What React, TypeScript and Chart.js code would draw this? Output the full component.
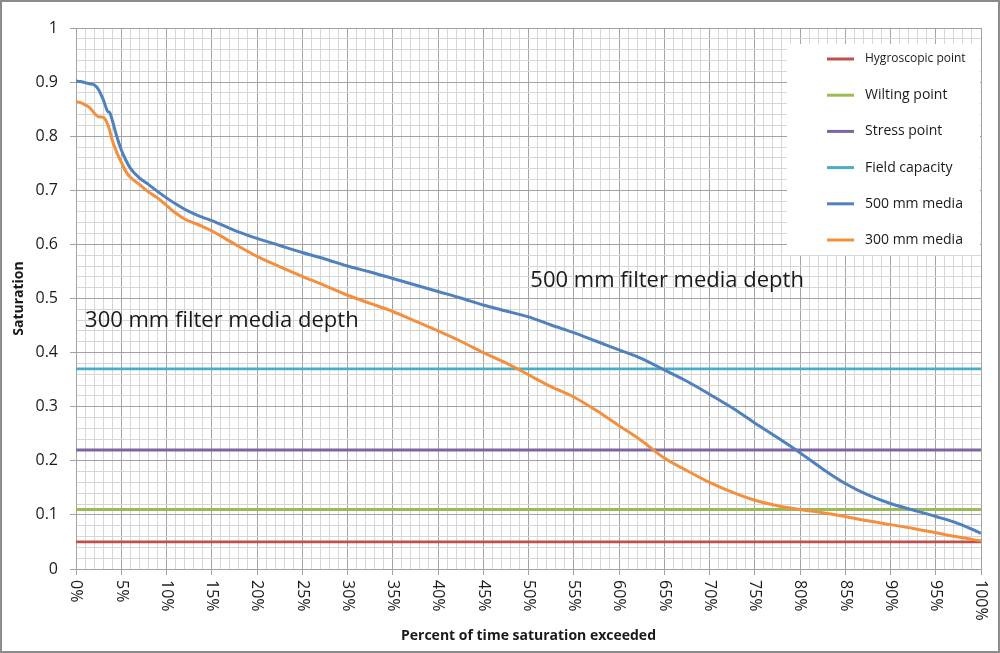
import React, { useEffect, useRef } from 'react';
import { Chart, registerables } from 'chart.js';

Chart.register(...registerables);

// ---------------- data ----------------
const PERCENT = [
  0, 0.5, 1, 1.5, 2, 2.5, 3, 3.5, 3.75, 4, 4.5, 5, 5.5, 6, 7, 8, 9, 10, 11, 12, 13, 14, 15,
  17.5, 20, 22.5, 25, 27.5, 30, 32.5, 35, 37.5, 40, 42.5, 45, 47.5, 50, 52.5, 55, 57.5, 60,
  62.5, 65, 67.5, 70, 72.5, 75, 77.5, 80, 82.5, 85, 87.5, 90, 92.5, 95, 97.5, 100,
];

const MEDIA_500 = [
  0.902, 0.901, 0.899, 0.897, 0.895, 0.886, 0.868, 0.846, 0.843, 0.83, 0.8, 0.775, 0.756, 0.741,
  0.723, 0.711, 0.698, 0.686, 0.675, 0.665, 0.657, 0.65, 0.644, 0.626, 0.611, 0.598, 0.585,
  0.573, 0.56, 0.549, 0.537, 0.525, 0.513, 0.501, 0.488, 0.477, 0.466, 0.451, 0.437, 0.421,
  0.405, 0.389, 0.368, 0.347, 0.323, 0.298, 0.27, 0.243, 0.215, 0.185, 0.158, 0.137, 0.121,
  0.109, 0.097, 0.084, 0.066,
];

const MEDIA_300 = [
  0.864, 0.862, 0.858, 0.853, 0.843, 0.836, 0.835, 0.822, 0.809, 0.793, 0.77, 0.752, 0.735,
  0.724, 0.711, 0.697, 0.686, 0.672, 0.658, 0.647, 0.64, 0.633, 0.625, 0.601, 0.578, 0.559,
  0.541, 0.524, 0.506, 0.491, 0.476, 0.458, 0.44, 0.421, 0.4, 0.381, 0.359, 0.337, 0.318,
  0.293, 0.265, 0.237, 0.205, 0.182, 0.16, 0.142, 0.127, 0.117, 0.11, 0.104, 0.097, 0.089,
  0.082, 0.075, 0.067, 0.059, 0.052,
];

const THRESHOLD_NAMES = ['Hygroscopic point', 'Wilting point', 'Stress point', 'Field capacity'];
const THRESHOLD_VALUES = [0.05, 0.11, 0.22, 0.37];
const CURVE_NAMES = ['500 mm media', '300 mm media'];

const X_TICK_VALUES = [0, 5, 10, 15, 20, 25, 30, 35, 40, 45, 50, 55, 60, 65, 70, 75, 80, 85, 90, 95, 100];
const ANNOTATION_TEXTS = ['500 mm filter media depth', '300 mm filter media depth'];
const ANNOTATION_ANCHORS = [
  { x: 50.2, y: 0.521 },
  { x: 1.0, y: 0.447 },
];

const X_TITLE = 'Percent of time saturation exceeded';
const Y_TITLE = 'Saturation';

// ---------------- styles ----------------
const FONT = '"Open Sans", "Noto Sans", sans-serif';
const THRESHOLD_COLORS = ['#c0504d', '#9bbb59', '#8064a2', '#4bacc6'];
const CURVE_COLORS = ['#4f81bd', '#f2903f'];
const MAJOR_GRID = '#a3a3a3';
const MINOR_GRID = '#d6d6d6';
const TEXT_COLOR = '#1a1a1a';
const LEGEND_FONT_SIZES = [12, 14, 14, 14, 14, 14];

const isMultiple = (v: number, step: number) => Math.abs(v / step - Math.round(v / step)) < 1e-6;

const bgPlugin = {
  id: 'bg',
  beforeDraw(chart: any) {
    const { ctx, width, height } = chart;
    ctx.save();
    ctx.fillStyle = '#ffffff';
    ctx.fillRect(0, 0, width, height);
    ctx.restore();
  },
};

const legendPlugin = {
  id: 'boxLegend',
  beforeDatasetsDraw(chart: any) {
    const { ctx, chartArea } = chart;
    const L = chartArea.right - 194;
    const T = chartArea.top + 16;
    const W = 193;
    const H = 211;
    ctx.save();
    ctx.fillStyle = '#ffffff';
    ctx.fillRect(L, T, W, H);
    chart.data.datasets.forEach((ds: any, i: number) => {
      const y = T + 15 + i * 36.2;
      ctx.beginPath();
      ctx.strokeStyle = ds.borderColor;
      ctx.lineWidth = 3;
      ctx.moveTo(L + 40, y);
      ctx.lineTo(L + 67, y);
      ctx.stroke();
      ctx.fillStyle = TEXT_COLOR;
      ctx.font = `${LEGEND_FONT_SIZES[i]}px ${FONT}`;
      ctx.textBaseline = 'middle';
      ctx.textAlign = 'left';
      ctx.fillText(ds.label, L + 78, y);
    });
    ctx.restore();
  },
};

const overlayPlugin = {
  id: 'overlay',
  afterDraw(chart: any) {
    const { ctx, scales, width, height } = chart;
    const xs = scales.x;
    const ys = scales.y;
    ctx.save();
    // rotated x tick labels (reading top to bottom)
    ctx.fillStyle = TEXT_COLOR;
    ctx.font = `16px ${FONT}`;
    ctx.textAlign = 'left';
    ctx.textBaseline = 'middle';
    X_TICK_VALUES.forEach((v) => {
      const px = xs.getPixelForValue(v);
      ctx.save();
      ctx.translate(px, ys.bottom + 11);
      ctx.rotate(Math.PI / 2);
      ctx.fillText(`${v}%`, 0, 0);
      ctx.restore();
    });
    // annotations
    ctx.font = `22px ${FONT}`;
    ctx.textBaseline = 'alphabetic';
    ANNOTATION_TEXTS.forEach((t, i) => {
      const a = ANNOTATION_ANCHORS[i];
      ctx.fillText(t, xs.getPixelForValue(a.x), ys.getPixelForValue(a.y));
    });
    // outer frame
    ctx.strokeStyle = '#8c8c8c';
    ctx.lineWidth = 2;
    ctx.strokeRect(1, 1, width - 2, height - 2);
    ctx.restore();
  },
};

export default function App() {
  const ref = useRef<HTMLCanvasElement | null>(null);

  useEffect(() => {
    document.body.style.margin = '0';
    const canvas = ref.current;
    if (!canvas) return;

    const thresholdSets = THRESHOLD_NAMES.map((name, i) => ({
      label: name,
      data: [
        { x: 0, y: THRESHOLD_VALUES[i] },
        { x: 100, y: THRESHOLD_VALUES[i] },
      ],
      borderColor: THRESHOLD_COLORS[i],
      backgroundColor: THRESHOLD_COLORS[i],
      borderWidth: 2.8,
      pointRadius: 0,
      order: 10 - i,
    }));
    const curveSets = [MEDIA_500, MEDIA_300].map((vals, i) => ({
      label: CURVE_NAMES[i],
      data: PERCENT.map((p, k) => ({ x: p, y: vals[k] })),
      borderColor: CURVE_COLORS[i],
      backgroundColor: CURVE_COLORS[i],
      borderWidth: 3,
      pointRadius: 0,
      cubicInterpolationMode: 'monotone' as const,
      order: 2 - i,
    }));

    const chart = new Chart(canvas, {
      type: 'line',
      data: { datasets: [...thresholdSets, ...curveSets] as any },
      plugins: [bgPlugin, legendPlugin, overlayPlugin],
      options: {
        animation: false,
        responsive: false,
        devicePixelRatio: 1,
        layout: { padding: { top: 28, right: 19, left: 0, bottom: 0 } },
        plugins: { legend: { display: false }, tooltip: { enabled: false } },
        scales: {
          x: {
            type: 'linear',
            min: 0,
            max: 100,
            afterFit: (s: any) => {
              s.height = 84;
            },
            ticks: { stepSize: 1, autoSkip: false, display: false },
            grid: {
              color: (c: any) => (isMultiple(c.tick.value, 5) ? MAJOR_GRID : MINOR_GRID),
              tickColor: (c: any) => (isMultiple(c.tick.value, 5) ? MAJOR_GRID : 'rgba(0,0,0,0)'),
              tickLength: 6,
              lineWidth: 1,
            },
            border: { color: MAJOR_GRID },
            title: {
              display: true,
              text: X_TITLE,
              color: TEXT_COLOR,
              font: { family: FONT, size: 14, weight: 'bold', lineHeight: 1.2 },
              padding: { top: 0, bottom: 9 },
            },
          },
          y: {
            type: 'linear',
            min: 0,
            max: 1,
            afterFit: (s: any) => {
              s.width = 76;
            },
            ticks: {
              stepSize: 0.02,
              autoSkip: false,
              padding: 12,
              color: TEXT_COLOR,
              font: { family: FONT, size: 16 },
              callback: (v: any) => (isMultiple(Number(v), 0.1) ? String(Math.round(Number(v) * 10) / 10) : ''),
            },
            grid: {
              color: (c: any) => (isMultiple(c.tick.value, 0.1) ? MAJOR_GRID : MINOR_GRID),
              tickColor: (c: any) => (isMultiple(c.tick.value, 0.1) ? MAJOR_GRID : 'rgba(0,0,0,0)'),
              tickLength: 6,
              lineWidth: 1,
            },
            border: { color: MAJOR_GRID },
            title: {
              display: true,
              text: Y_TITLE,
              color: TEXT_COLOR,
              font: { family: FONT, size: 14, weight: 'bold', lineHeight: 1.2 },
              padding: { top: 11, bottom: 0 },
            },
          },
        },
      } as any,
    });

    return () => chart.destroy();
  }, []);

  return (
    <div style={{ width: 1000, height: 653, position: 'relative' }}>
      <canvas ref={ref} width={1000} height={653} style={{ display: 'block' }} />
    </div>
  );
}
